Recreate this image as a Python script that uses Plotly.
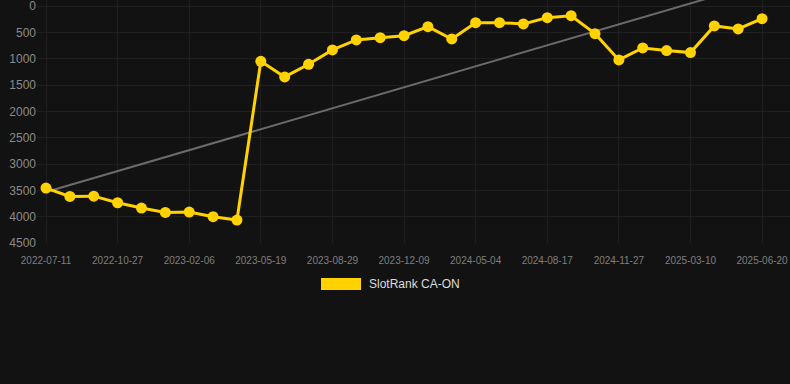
import numpy as np
import plotly.graph_objects as go

dates = [
    "2022-07-11", "2022-08-16", "2022-09-21", "2022-10-27", "2022-12-01", "2023-01-03",
    "2023-02-06", "2023-03-12", "2023-04-15", "2023-05-19", "2023-06-24", "2023-07-27",
    "2023-08-29", "2023-10-04", "2023-11-06", "2023-12-09", "2024-01-25", "2024-03-18",
    "2024-05-04", "2024-06-08", "2024-07-13", "2024-08-17", "2024-09-22", "2024-10-24",
    "2024-11-27", "2024-12-31", "2025-02-04", "2025-03-10", "2025-04-13", "2025-05-17",
    "2025-06-20",
]
rank = [
    3457, 3616, 3610, 3736, 3837, 3920, 3913, 4001, 4065,
    1050, 1347, 1107, 834, 645, 601, 563, 392, 626,
    316, 316, 341, 221, 184, 525, 1024, 797, 847, 885,
    379, 436, 240,
]
tick_labels = dates[::3]
y_ticks = [0, 500, 1000, 1500, 2000, 2500, 3000, 3500, 4000, 4500]
series_name = "SlotRank CA-ON"

idx = np.arange(len(rank))
slope, intercept = np.polyfit(idx, rank, 1)
trend = (slope * idx + intercept).tolist()

fig = go.Figure()
fig.add_trace(go.Scatter(
    x=dates, y=trend, mode="lines",
    line=dict(color="#6b6b6b", width=2),
    hoverinfo="skip", showlegend=False,
))
fig.add_trace(go.Scatter(
    x=dates, y=rank, mode="lines+markers", name=series_name,
    line=dict(color="#FFD200", width=3),
    marker=dict(color="#FFD200", size=11),
    showlegend=False,
))

fig.update_layout(
    width=790, height=384,
    margin=dict(l=37, r=0, t=0, b=141),
    paper_bgcolor="#121212", plot_bgcolor="#121212",
    font=dict(family="Liberation Sans, Arial, sans-serif", color="#8a8a8a"),
    showlegend=False,
    xaxis=dict(
        type="category", range=[-0.377, 31.17],
        tickvals=tick_labels, ticktext=tick_labels,
        tickfont=dict(size=10, color="#7f7f7f"),
        showgrid=True, gridcolor="#1f1f1f", gridwidth=1,
        zeroline=False, showline=False,
        ticks="outside", ticklen=8, tickcolor="rgba(0,0,0,0)",
        ticklabeloverflow="allow",
    ),
    yaxis=dict(
        range=[4500, -114], tickvals=y_ticks,
        tickfont=dict(size=12, color="#8a8a8a"),
        showgrid=True, gridcolor="#1f1f1f", gridwidth=1,
        zeroline=False, showline=False, ticks="",
        ticklabeloverflow="allow",
    ),
    shapes=[dict(
        type="rect", xref="paper", yref="paper",
        x0=(321 - 37) / 753, x1=(361 - 37) / 753,
        y0=-(278 - 243) / 243, y1=-(290 - 243) / 243,
        fillcolor="#FFD200", line=dict(width=0),
    )],
    annotations=[dict(
        text=series_name, xref="paper", yref="paper",
        x=(367 - 37) / 753, y=-(284 - 243) / 243,
        xanchor="left", yanchor="middle", showarrow=False,
        font=dict(size=12, color="#dddddd"),
    )],
)

fig.write_html(
    "out.html",
    config={"displayModeBar": False},
    post_script="document.body.style.margin='0';document.body.style.background='#121212';",
)
